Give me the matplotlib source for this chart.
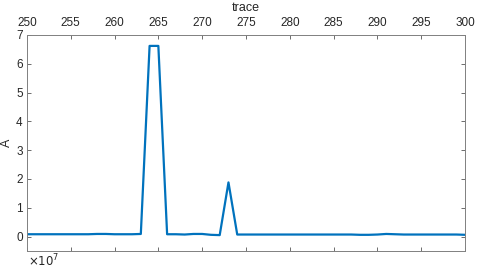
import numpy as np
import matplotlib
matplotlib.use("Agg")
import matplotlib.pyplot as plt

plt.rcParams['font.family'] = ['Liberation Sans', 'DejaVu Sans']

# trace numbers and amplitude (in units of 1e7)
trace = np.arange(250, 301)
amp = [0.08, 0.08, 0.08, 0.08, 0.08, 0.08, 0.08, 0.08, 0.09, 0.09,
       0.08, 0.08, 0.08, 0.09, 6.62, 6.62, 0.08, 0.08, 0.07, 0.09,
       0.09, 0.06, 0.05, 1.88, 0.07, 0.07, 0.07, 0.07, 0.07, 0.07,
       0.07, 0.07, 0.07, 0.07, 0.07, 0.07, 0.07, 0.07, 0.06, 0.06,
       0.07, 0.09, 0.08, 0.07, 0.07, 0.07, 0.07, 0.07, 0.07, 0.07,
       0.06]
xticks = np.arange(250, 301, 5)
yticks = np.arange(0, 8, 1)

fig = plt.figure(figsize=(4.8, 2.71), dpi=100)
ax = fig.add_axes([0.056, 0.074, 0.913, 0.797])
ax.plot(trace, amp, color='#0072BD', lw=1.6)

ax.set_xlim(250, 300)
ax.set_ylim(-0.5, 7)
ax.set_xticks(xticks)
ax.set_yticks(yticks)
ax.xaxis.tick_top()
ax.xaxis.set_label_position('top')
ax.tick_params(axis='both', direction='in', length=3, width=0.6, color='#555555',
               labelsize=8.5, labelcolor='#262626',
               top=True, bottom=True, left=True, right=True)
ax.tick_params(axis='x', pad=4)
ax.tick_params(axis='y', pad=3)
for s in ax.spines.values():
    s.set_color('#808080')
    s.set_linewidth(0.7)
ax.set_xlabel('trace', fontsize=9, color='#262626', va='bottom')
ax.xaxis.set_label_coords(0.5, 1 + 21 / 216)
ax.set_ylabel('A', fontsize=9, color='#262626', labelpad=2)
fig.text(28 / 480, 1 - 261 / 271, r'$\times10^{7}$', fontsize=8.5,
         color='#262626', ha='left', va='center', math_fontfamily='dejavusans')

fig.savefig('out.png', dpi=100)
